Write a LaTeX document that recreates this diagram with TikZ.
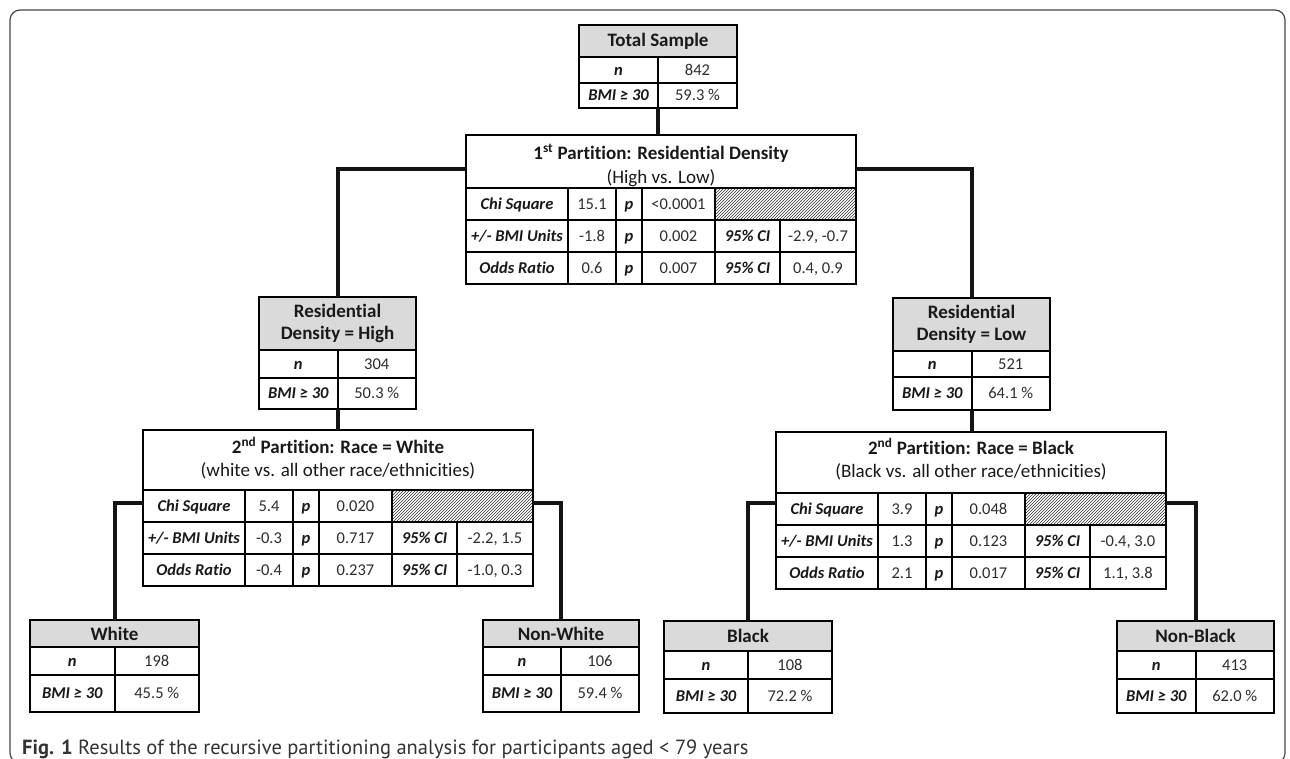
\documentclass[tikz,border=0pt]{standalone}
\usepackage{fontspec}
\setmainfont[Ligatures={NoCommon}]{Carlito}
\newfontfamily\capfont{PT Sans}
\usetikzlibrary{patterns}
\definecolor{hdrgray}{RGB}{218,218,218}
\definecolor{framegray}{RGB}{70,70,70}
\definecolor{txt}{RGB}{25,25,25}
\definecolor{valtxt}{RGB}{45,45,45}
\tikzset{
  box/.style={draw=black, line width=2.4pt, inner sep=0pt, outer sep=0pt},
  cell/.style={draw=black, line width=2pt},
  conn/.style={draw=black!92, line width=4pt},
  hdrtxt/.style={font=\fontsize{19}{22}\selectfont\bfseries, align=center, inner sep=0pt, text=txt},
  titletxt/.style={font=\fontsize{19}{22}\selectfont\bfseries, inner sep=0pt, text=txt, text height=12.2pt, text depth=0pt},
  subtxt/.style={font=\fontsize{19}{22}\selectfont, inner sep=0pt, text=txt, text height=12.2pt, text depth=0pt},
  lbl/.style={font=\fontsize{16.5}{18}\selectfont\bfseries\itshape, inner sep=0pt, text=txt, text height=10.6pt, text depth=0pt},
  val/.style={font=\fontsize{16.5}{18}\selectfont, inner sep=0pt, text=valtxt, text height=10.6pt, text depth=0pt},
  captxt/.style={font=\capfont\fontsize{20.5}{23}\selectfont, inner sep=0pt, text=black!80},
}
% leaf box: #1 name #2 x1 #3 x2 #4 y0 #5 y1 #6 y2 #7 y3 #8 header #9 {n}{bmi}
\newcommand\leafbox[9]{%
  \fill[hdrgray] (#2,#4) rectangle (#3,#5);
  \draw[cell] (#2,#5) -- (#3,#5) (#2,#6) -- (#3,#6) ({(#2+#3)/2},#5) -- ({(#2+#3)/2},#7);
  \node[box, anchor=north west, minimum width={(#3-#2)*1pt}, minimum height={(#7-#4)*1pt}] (#1) at (#2,#4) {};
  \node[hdrtxt] (#1-h) at ({(#2+#3)/2},{(#4+#5)/2}) {#8};
  \def\leafvals##1##2{%
    \node[lbl] (#1-nl) at ({(3*#2+#3)/4},{(#5+#6)/2}) {n};
    \node[val] (#1-nv) at ({(#2+3*#3)/4},{(#5+#6)/2}) {##1};
    \node[lbl] (#1-bl) at ({(3*#2+#3)/4},{(#6+#7)/2}) {BMI ≥ 30};
    \node[val] (#1-bv) at ({(#2+3*#3)/4},{(#6+#7)/2}) {##2};
  }\leafvals#9%
}
% partition table: #1 name #2 x1 #3 y0 #4 y1 (header bottom) #5 row height #6 title #7 subtitle #8 title y #9 subtitle y
\newcommand\parttable[9]{%
  \pgfmathsetmacro\Pya{#4+#5}\pgfmathsetmacro\Pyb{#4+2*#5}\pgfmathsetmacro\Pyc{#4+3*#5}%
  \pgfmathsetmacro\Pxa{#2+102}\pgfmathsetmacro\Pxb{#2+150}\pgfmathsetmacro\Pxc{#2+176}%
  \pgfmathsetmacro\Pxd{#2+249}\pgfmathsetmacro\Pxe{#2+314}\pgfmathsetmacro\Pxf{#2+390}%
  \fill[pattern=north east lines, pattern color=black!80] (\Pxd,#4) rectangle (\Pxf,\Pya);
  \draw[cell] (#2,#4) -- (\Pxf,#4) (#2,\Pya) -- (\Pxf,\Pya) (#2,\Pyb) -- (\Pxf,\Pyb);
  \draw[cell] (\Pxa,#4) -- (\Pxa,\Pyc) (\Pxb,#4) -- (\Pxb,\Pyc) (\Pxc,#4) -- (\Pxc,\Pyc)
              (\Pxd,#4) -- (\Pxd,\Pyc) (\Pxe,\Pya) -- (\Pxe,\Pyc);
  \node[box, anchor=north west, minimum width=390pt, minimum height={(\Pyc-#3)*1pt}] (#1) at (#2,#3) {};
  \node[titletxt] (#1-t) at ({#2+195},#8) {#6};
  \node[subtxt] (#1-s) at ({#2+195},#9) {#7};
}
% row: #1 name #2 x1 #3 ytop #4 rowH #5 label #6 value #7 p-value #8 ci-label #9 ci
\newcommand\partrow[9]{%
  \node[lbl] (#1-l) at ({#2+51},{#3+#4/2}) {#5};
  \node[val] (#1-v) at ({#2+126},{#3+#4/2}) {#6};
  \node[lbl] (#1-p) at ({#2+163},{#3+#4/2}) {p};
  \node[val] (#1-pv) at ({#2+212.5},{#3+#4/2}) {#7};
  \node[lbl] (#1-c) at ({#2+281.5},{#3+#4/2}) {#8};
  \node[val] (#1-cv) at ({#2+352},{#3+#4/2}) {#9};
}
\begin{document}
\begin{tikzpicture}[x=1pt,y=-1pt]
\clip (0,0) rectangle (1290,759);
\fill[white] (0,0) rectangle (1290,759);
\draw[framegray, line width=1.2pt, rounded corners=10pt] (10,10) rectangle (1285,763);

% boxes
\leafbox{ts}{579}{737}{25}{57}{83}{108}{Total Sample}{{842}{59.3 \%}}
\leafbox{rh}{259}{416}{297}{350}{378}{409}{Residential\\Density = High}{{304}{50.3 \%}}
\leafbox{rl}{893}{1050}{298}{351}{377}{410}{Residential\\Density = Low}{{521}{64.1 \%}}
\leafbox{white}{30}{199}{620}{647}{675}{712}{White}{{198}{45.5 \%}}
\leafbox{nonwhite}{483}{639}{620}{647}{675}{712}{Non-White}{{106}{59.4 \%}}
\leafbox{black}{664}{832}{621}{651}{679}{713}{Black}{{108}{72.2 \%}}
\leafbox{nonblack}{1117}{1274}{621}{651}{679}{713}{Non-Black}{{413}{62.0 \%}}

% partitions
\parttable{p1}{466}{135}{188}{32}{1\textsuperscript{st} Partition: Residential Density}{(High vs. Low)}{153}{177}
\partrow{p1r1}{466}{188}{32}{Chi Square}{15.1}{<0.0001}{}{}
\partrow{p1r2}{466}{220}{32}{+/- BMI Units}{-1.8}{0.002}{95\% CI}{-2.9, -0.7}
\partrow{p1r3}{466}{252}{32}{Odds Ratio}{0.6}{0.007}{95\% CI}{0.4, 0.9}

\parttable{pw}{143}{430}{490}{32}{2\textsuperscript{nd} Partition: Race = White}{(white vs. all other race/ethnicities)}{447}{470}
\partrow{pwr1}{143}{490}{32}{Chi Square}{5.4}{0.020}{}{}
\partrow{pwr2}{143}{522}{32}{+/- BMI Units}{-0.3}{0.717}{95\% CI}{-2.2, 1.5}
\partrow{pwr3}{143}{554}{32}{Odds Ratio}{-0.4}{0.237}{95\% CI}{-1.0, 0.3}

\parttable{pb}{776}{432}{493}{32}{2\textsuperscript{nd} Partition: Race = Black}{(Black vs. all other race/ethnicities)}{448}{471}
\partrow{pbr1}{776}{493}{32}{Chi Square}{3.9}{0.048}{}{}
\partrow{pbr2}{776}{525}{32}{+/- BMI Units}{1.3}{0.123}{95\% CI}{-0.4, 3.0}
\partrow{pbr3}{776}{557}{32}{Odds Ratio}{2.1}{0.017}{95\% CI}{1.1, 3.8}

% connectors
\draw[conn] (ts.south) -- (ts.south |- p1.north);
\draw[conn] ([yshift=40.5pt]p1.west) -| (rh.north);
\draw[conn] ([yshift=40.5pt]p1.east) -| (rl.north);
\draw[conn] (rh.south) -- (rh.south |- pw.north);
\draw[conn] (rl.south) -- (rl.south |- pb.north);
\draw[conn] ([yshift=5pt]pw.west) -| (white.north);
\draw[conn] ([yshift=5pt]pw.east) -| (nonwhite.north);
\draw[conn] ([yshift=7.5pt]pb.west) -| (black.north);
\draw[conn] ([yshift=7.5pt]pb.east) -| (nonblack.north);

% caption
\node[captxt, anchor=base west] (cap) at (22,754) {\textbf{Fig. 1} Results of the recursive partitioning analysis for participants aged < 79 years};
\end{tikzpicture}
\end{document}
